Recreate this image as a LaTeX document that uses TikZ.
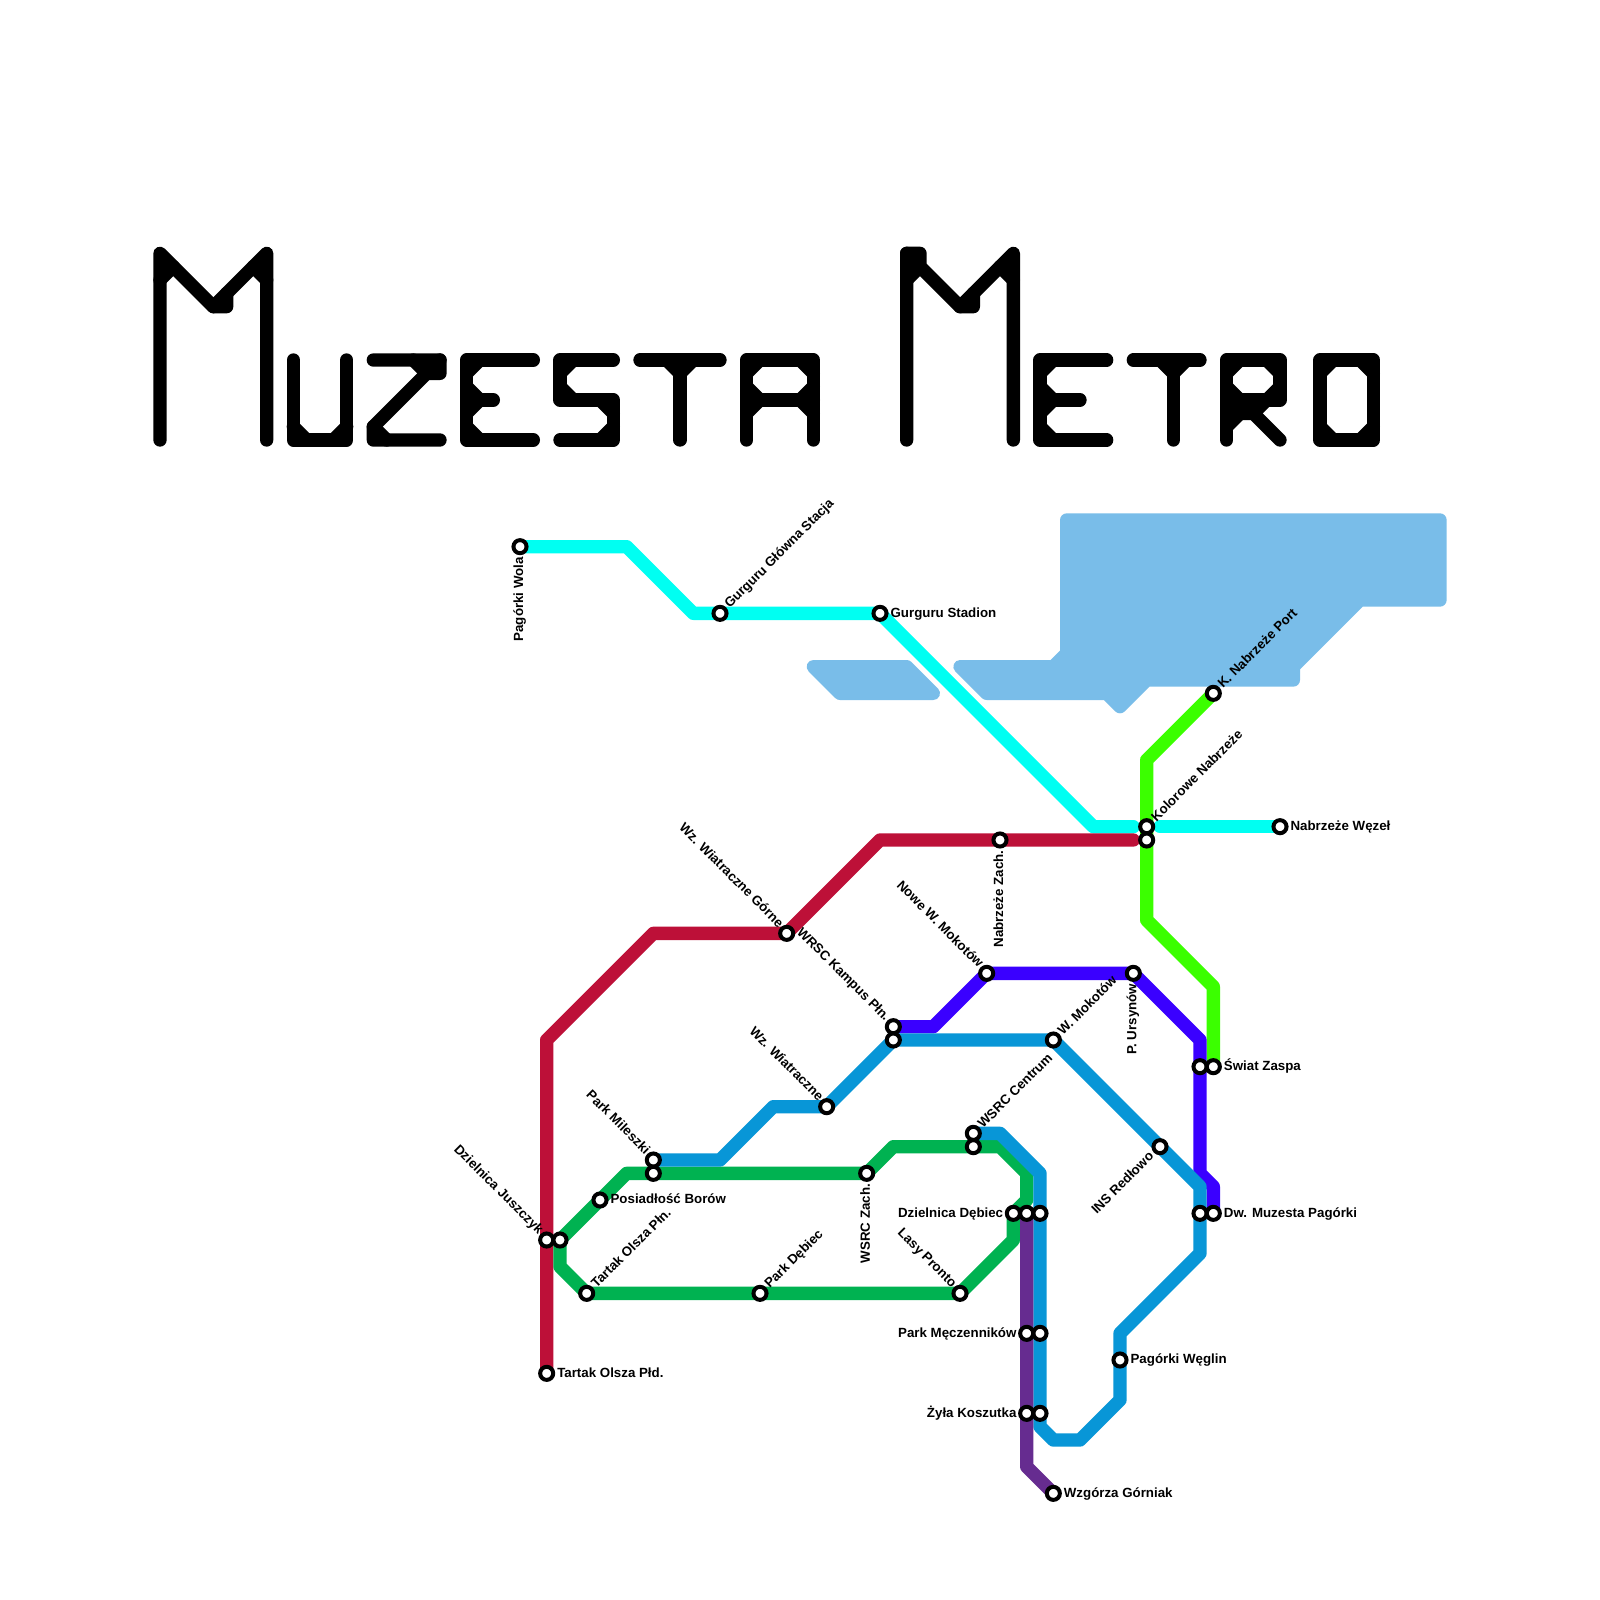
\documentclass[tikz,border=0pt]{standalone}
\usepackage{fontspec}
\setmainfont{Liberation Sans}
\usetikzlibrary{calc}
\pgfdeclarelayer{waterlayer}
\pgfdeclarelayer{linelayer}
\pgfsetlayers{waterlayer,linelayer,main}
\definecolor{mmred}{HTML}{BD1038}
\definecolor{mmgreen}{HTML}{00B251}
\definecolor{mmblue}{HTML}{0896D7}
\definecolor{mmpurple}{HTML}{662C90}
\definecolor{mmwater}{HTML}{79BDE9}
\definecolor{mmcyan}{HTML}{00FFF2}
\definecolor{mmviolet}{HTML}{3A00FF}
\definecolor{mmlime}{HTML}{3BFF00}
\newlength{\gu}\setlength{\gu}{0.5cm}
\tikzset{
  x=\gu,y=-\gu,
  metro/.style={line width=\gu,line cap=round,line join=round},
  glyph/.style={metro,draw=black},
  water/.style={fill=mmwater,draw=mmwater,line width=\gu,line join=round},
  stn/.style={circle,draw=black,fill=white,line width=0.3\gu,minimum size=0.98\gu,inner sep=0pt,outer sep=0pt},
  lab/.style={inner sep=0pt,text height=0.72em,text depth=0.2em,font=\fontsize{14.2}{14.2}\selectfont\bfseries},
  labR/.style={lab,anchor=west},
  labL/.style={lab,anchor=east},
  labUR/.style={lab,anchor=west,rotate=45},
  labUL/.style={lab,anchor=east,rotate=-45},
  labLL/.style={lab,anchor=east,rotate=45},
  labV/.style={lab,anchor=east,rotate=90},
}
\newcommand{\stn}[2]{\node[stn] (#1) at (#2) {};}
\newcommand{\tR}[3]{\node[labR] (l#1) at ($(#1)+(0.78,0.1)$) {#3};}
\newcommand{\tL}[3]{\node[labL] (l#1) at ($(#1)+(-0.75,0.1)$) {#3};}
\newcommand{\tUR}[3]{\node[labUR] (l#1) at ($(#1)+(0.6,-0.45)$) {#3};}
\newcommand{\tUL}[3]{\node[labUL] (l#1) at ($(#1)+(-0.5,-0.5)$) {#3};}
\newcommand{\tLL}[3]{\node[labLL] (l#1) at ($(#1)+(-0.55,0.65)$) {#3};}
\newcommand{\tV}[3]{\node[labV] (l#1) at ($(#1)+(0.05,0.78)$) {#3};}
\begin{document}
\begin{tikzpicture}
\path[use as bounding box] (0,0) rectangle (120,120);
% stations
\stn{wola}{39,41}\stn{glowna}{54,46}\stn{stadion}{66,46}
\stn{kolor}{86,62}\stn{kolorb}{86,63}\stn{wezel}{96,62}
\stn{port}{91,52}\stn{zach}{75,63}\stn{gorne}{59,70}
\stn{nowe}{74,73}\stn{ursynow}{85,73}
\stn{kampusa}{67,77}\stn{kampus}{67,78}\stn{mokotow}{79,78}
\stn{zaspaa}{90,80}\stn{zaspa}{91,80}
\stn{wiatr}{62,83}\stn{centrum}{73,85}\stn{centrumb}{73,86}
\stn{redl}{87,86}
\stn{mil}{49,87}\stn{milb}{49,88}\stn{wsrcz}{65,88}
\stn{posiad}{45,90}
\stn{debiec}{76,91}\stn{debiecb}{77,91}\stn{debiecc}{78,91}
\stn{dwa}{90,91}\stn{dw}{91,91}
\stn{jusz}{41,93}\stn{juszb}{42,93}
\stn{olszan}{44,97}\stn{pdeb}{57,97}\stn{lasy}{72,97}
\stn{mecz}{77,100}\stn{meczb}{78,100}
\stn{weglin}{84,102}\stn{olszas}{41,103}
\stn{zyla}{77,106}\stn{zylab}{78,106}
\stn{gorniak}{79,112}
% labels
\tV{wola}{}{Pagórki Wola}
\tUR{glowna}{}{Gurguru Główna Stacja}
\tR{stadion}{}{Gurguru Stadion}
\tUR{port}{}{K. Nabrzeże Port}
\tUR{kolor}{}{Kolorowe Nabrzeże}
\tR{wezel}{}{Nabrzeże Węzeł}
\tV{zach}{}{Nabrzeże Zach.}
\tUL{gorne}{}{Wz. Wiatraczne Górne}
\tUL{nowe}{}{Nowe W. Mokotów}
\tV{ursynow}{}{P. Ursynów}
\tUL{kampusa}{}{WRSC Kampus Płn.}
\tUR{mokotow}{}{W. Mokotów}
\tR{zaspa}{}{Świat Zaspa}
\tUL{wiatr}{}{Wz. Wiatraczne}
\tUR{centrum}{}{WSRC Centrum}
\tLL{redl}{}{INS Redłowo}
\tUL{mil}{}{Park Mileszki}
\tV{wsrcz}{}{WSRC Zach.}
\tR{posiad}{}{Posiadłość Borów}
\tL{debiec}{}{Dzielnica Dębiec}
\tR{dw}{}{Dw. Muzesta Pagórki}
\tUL{jusz}{}{Dzielnica Juszczyk}
\tUR{olszan}{}{Tartak Olsza Płn.}
\tUR{pdeb}{}{Park Dębiec}
\tUL{lasy}{}{Lasy Pronto}
\tL{mecz}{}{Park Męczenników}
\tR{weglin}{}{Pagórki Węglin}
\tR{olszas}{}{Tartak Olsza Płd.}
\tL{zyla}{}{Żyła Koszutka}
\tR{gorniak}{}{Wzgórza Górniak}
% water
\begin{pgfonlayer}{waterlayer}
\fill[white] (0,0) rectangle (120,120);
\draw[water] (61,50)--(68,50)--(70,52)--(63,52)--cycle;
\draw[water] (72,50)--(79,50)--(80,49)--(80,39)--(108,39)--(108,45)--(102,45)--(97,50)--(97,51)--(86,51)--(84,53)--(83,52)--(74,52)--cycle;
\end{pgfonlayer}
% lines
\begin{pgfonlayer}{linelayer}
\coordinate (cyanend) at (85,62);
\coordinate (cyanstart) at (87,62);
\coordinate (redend) at (85,63);
\draw[metro,mmcyan] (wola.center)--(47,41)--(52,46)--(glowna.center)--(stadion.center)--(82,62)--(cyanend);
\draw[metro,mmcyan] (cyanstart)--(wezel.center);
\draw[metro,mmlime] (port.center)--(86,57)--(kolor.center)--(kolorb.center)--(86,69)--(91,74)--(zaspa.center);
\draw[metro,mmred] (olszas.center)--(jusz.center)--(41,78)--(49,70)--(gorne.center)--(66,63)--(zach.center)--(redend);
\draw[metro,mmviolet] (kampusa.center)--(70,77)--(nowe.center)--(ursynow.center)--(90,78)--(zaspaa.center)--(90,88)--(91,89)--(dw.center);
\draw[metro,mmgreen] (juszb.center)--(47,88)--(milb.center)--(wsrcz.center)--(67,86)--(centrumb.center)--(75,86)--(77,88)--(77,90)--(debiec.center)--(76,93)--(lasy.center)--(pdeb.center)--(olszan.center)--(42,95)--(juszb.center);
\draw[metro,mmblue] (mil.center)--(54,87)--(58,83)--(wiatr.center)--(kampus.center)--(mokotow.center)--(redl.center)--(90,89)--(dwa.center)--(90,94)--(84,100)--(weglin.center)--(84,105)--(81,108)--(79,108)--(78,107)--(zylab.center)--(meczb.center)--(debiecc.center)--(78,88)--(75,85)--(centrum.center);
\draw[metro,mmpurple] (debiecb.center)--(mecz.center)--(zyla.center)--(77,110)--(gorniak.center);
% title
% M
\draw[glyph] (12,33)--(12,19)--(16,23)--(17,23)--(17,22);
\draw[glyph] (16,23)--(20,19)--(20,33);
\draw[glyph] (12,21)--(13,20);\draw[glyph] (20,21)--(19,20);
% U
\draw[glyph] (22,27)--(22,33)--(26,33)--(26,27);
\draw[glyph] (22,32)--(23,33);\draw[glyph] (26,32)--(25,33);
% Z
\draw[glyph] (28,27)--(33,27)--(33,28)--(32,28)--(28,32)--(28,33)--(33,33);
\draw[glyph] (31,27)--(32,28);\draw[glyph] (28,32)--(29,33);\draw[glyph] (33,27)--(32,28);
% E
\draw[glyph] (40,27)--(35,27)--(35,33)--(40,33);\draw[glyph] (35,30)--(37,30);
\draw[glyph] (35,28)--(36,27);\draw[glyph] (35,29)--(36,30)--(35,31);\draw[glyph] (35,32)--(36,33);
% S
\draw[glyph] (46,27)--(42,27)--(42,30)--(46,30)--(46,33)--(42,33);
\draw[glyph] (42,28)--(43,27);\draw[glyph] (42,29)--(43,30);\draw[glyph] (45,30)--(46,31);\draw[glyph] (45,33)--(46,32);
% T
\draw[glyph] (48,27)--(54,27);\draw[glyph] (51,27)--(51,33);
\draw[glyph] (50,27)--(51,28)--(52,27);
% A
\draw[glyph] (56,33)--(56,27)--(61,27)--(61,33);\draw[glyph] (56,30)--(61,30);
\draw[glyph] (56,28)--(57,27);\draw[glyph] (56,29)--(57,30)--(56,31);
\draw[glyph] (61,28)--(60,27);\draw[glyph] (61,29)--(60,30)--(61,31);
% M2
\draw[glyph] (68,33)--(68,19)--(69,19)--(69,20)--(72,23)--(73,23)--(73,22);
\draw[glyph] (72,23)--(76,19)--(76,33);
\draw[glyph] (68,21)--(69,20);\draw[glyph] (68,19)--(69,20);\draw[glyph] (76,21)--(75,20);
% E2
\draw[glyph] (83,27)--(78,27)--(78,33)--(83,33);\draw[glyph] (78,30)--(81,30);
\draw[glyph] (78,28)--(79,27);\draw[glyph] (78,29)--(79,30)--(78,31);\draw[glyph] (78,32)--(79,33);
% T2
\draw[glyph] (85,27)--(90,27);\draw[glyph] (88,27)--(88,33);
\draw[glyph] (87,27)--(88,28)--(89,27);
% R
\draw[glyph] (92,33)--(92,27)--(96,27)--(96,30)--(92,30);
\draw[glyph] (92,31)--(94,31)--(96,33);\draw[glyph] (95,30)--(94,31);\draw[glyph] (92,32)--(93,31);
\draw[glyph] (92,28)--(93,27);\draw[glyph] (92,29)--(93,30);\draw[glyph] (96,28)--(95,27);\draw[glyph] (96,29)--(95,30);
% O
\draw[glyph] (99,27)--(103,27)--(103,33)--(99,33)--cycle;
\draw[glyph] (99,28)--(100,27);\draw[glyph] (103,28)--(102,27);\draw[glyph] (99,32)--(100,33);\draw[glyph] (103,32)--(102,33);
\end{pgfonlayer}
\end{tikzpicture}
\end{document}
